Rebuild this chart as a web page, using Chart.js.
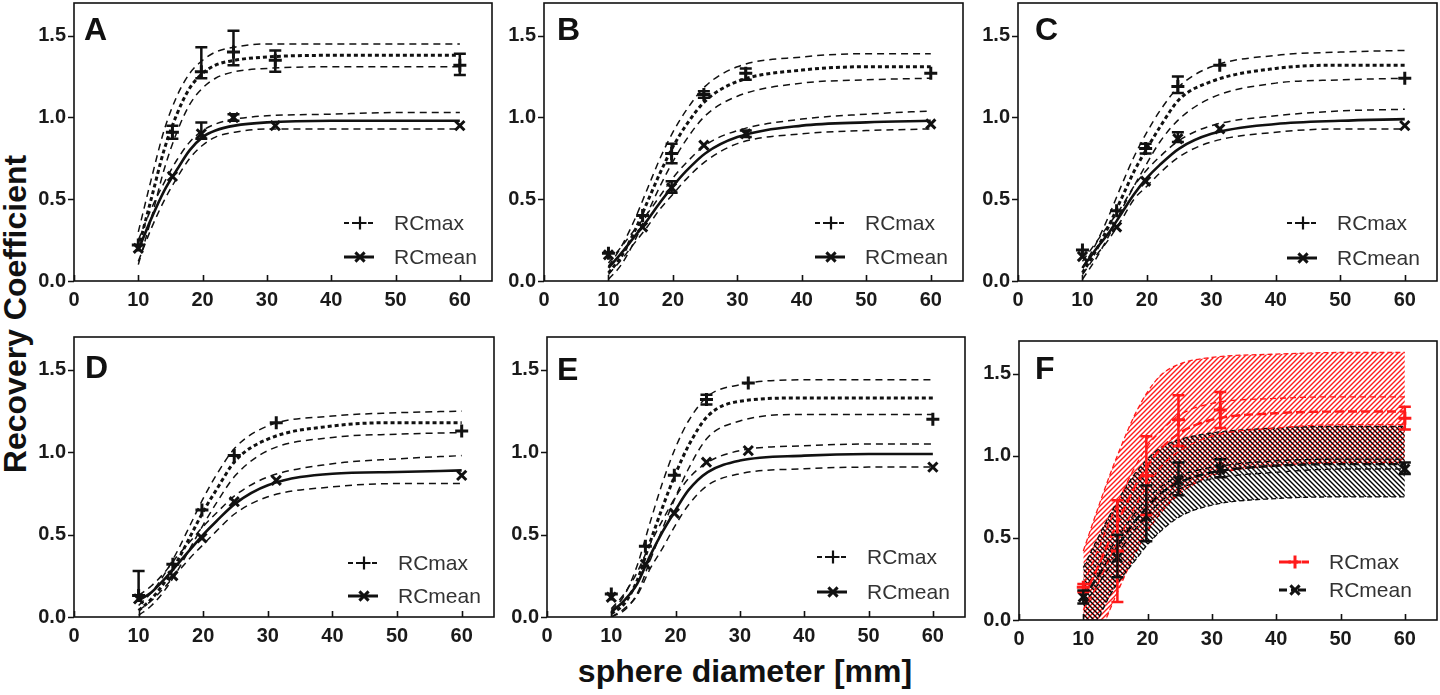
<!DOCTYPE html>
<html><head><meta charset="utf-8">
<script src="https://cdn.jsdelivr.net/npm/chart.js@4.4.0/dist/chart.umd.min.js"></script>
<style>
html,body{margin:0;padding:0;background:#fff;overflow:hidden;width:1440px;height:695px;}
.pane{position:absolute;}
.title{position:absolute;font:bold 32px Arial,"Liberation Sans",sans-serif;color:#111;white-space:nowrap;line-height:32px;}
</style></head><body>
<div class="title" style="left:15px;top:314px;transform:translate(-50%,-50%) rotate(-90deg);">Recovery Coefficient</div>
<div class="title" style="left:745px;top:671px;transform:translate(-50%,-50%);">sphere diameter [mm]</div>
<script>
// ---------- data ----------
const diam = [10, 15.3, 19.8, 24.8, 31.3, 60];
const fitX = [10, 12, 14, 16, 18, 20, 22, 25, 30, 40, 50, 60];
const xTickVals = [0, 10, 20, 30, 40, 50, 60];
const yTickVals = [0, 0.5, 1.0, 1.5];
const yTickLabels = ['0.0', '0.5', '1.0', '1.5'];
const legendLabels = ['RCmax', 'RCmean'];
const panelLetters = ['A', 'B', 'C', 'D', 'E', 'F'];

// Panel A
const aMax = [0.22, 0.91, 1.28, 1.40, 1.35, 1.32];
const aMaxLo = [0.22, 0.87, 1.24, 1.32, 1.28, 1.26];
const aMaxHi = [0.22, 0.95, 1.43, 1.53, 1.41, 1.39];
const aMean = [0.20, 0.64, 0.90, 1.00, 0.95, 0.95];
const aMeanLo = [0.20, 0.64, 0.87, 0.98, 0.95, 0.95];
const aMeanHi = [0.20, 0.64, 0.97, 1.02, 0.95, 0.95];
const aMaxFit = [0.20, 0.50, 0.80, 1.02, 1.18, 1.27, 1.32, 1.35, 1.37, 1.38, 1.38, 1.38];
const aMaxFitHi = [0.30, 0.62, 0.92, 1.13, 1.27, 1.35, 1.40, 1.43, 1.45, 1.45, 1.45, 1.45];
const aMaxFitLo = [0.10, 0.38, 0.68, 0.91, 1.08, 1.18, 1.24, 1.28, 1.30, 1.31, 1.31, 1.31];
const aMeanFit = [0.19, 0.38, 0.55, 0.68, 0.80, 0.88, 0.92, 0.95, 0.97, 0.98, 0.98, 0.98];
const aMeanFitHi = [0.25, 0.44, 0.60, 0.74, 0.85, 0.92, 0.96, 0.99, 1.01, 1.02, 1.03, 1.03];
const aMeanFitLo = [0.12, 0.32, 0.49, 0.63, 0.75, 0.83, 0.88, 0.91, 0.93, 0.93, 0.93, 0.93];

// Panel B
const bMax = [0.17, 0.40, 0.78, 1.14, 1.27, 1.27];
const bMaxLo = [0.17, 0.40, 0.72, 1.12, 1.23, 1.27];
const bMaxHi = [0.17, 0.40, 0.84, 1.16, 1.30, 1.27];
const bMean = [0.16, 0.33, 0.57, 0.83, 0.90, 0.96];
const bMeanLo = [0.16, 0.33, 0.54, 0.83, 0.88, 0.96];
const bMeanHi = [0.16, 0.33, 0.61, 0.83, 0.92, 0.96];
const bMaxFit = [0.05, 0.15, 0.30, 0.48, 0.66, 0.82, 0.95, 1.10, 1.22, 1.29, 1.31, 1.31];
const bMaxFitHi = [0.09, 0.21, 0.37, 0.56, 0.75, 0.91, 1.04, 1.19, 1.31, 1.37, 1.39, 1.39];
const bMaxFitLo = [0.01, 0.10, 0.24, 0.41, 0.58, 0.73, 0.86, 1.01, 1.13, 1.21, 1.23, 1.24];
const bMeanFit = [0.08, 0.17, 0.27, 0.37, 0.48, 0.58, 0.67, 0.78, 0.88, 0.95, 0.97, 0.98];
const bMeanFitHi = [0.11, 0.21, 0.31, 0.41, 0.52, 0.63, 0.72, 0.83, 0.92, 0.99, 1.02, 1.04];
const bMeanFitLo = [0.04, 0.13, 0.23, 0.33, 0.44, 0.53, 0.62, 0.73, 0.84, 0.90, 0.92, 0.93];

// Panel C
const cMax = [0.19, 0.43, 0.81, 1.19, 1.32, 1.24];
const cMaxLo = [0.19, 0.43, 0.78, 1.15, 1.32, 1.24];
const cMaxHi = [0.19, 0.43, 0.84, 1.25, 1.32, 1.24];
const cMean = [0.15, 0.33, 0.61, 0.87, 0.93, 0.95];
const cMeanLo = [0.15, 0.33, 0.61, 0.85, 0.93, 0.95];
const cMeanHi = [0.15, 0.33, 0.61, 0.91, 0.93, 0.95];
const cMaxFit = [0.05, 0.18, 0.33, 0.50, 0.67, 0.81, 0.94, 1.11, 1.22, 1.30, 1.32, 1.32];
const cMaxFitHi = [0.08, 0.22, 0.39, 0.58, 0.76, 0.91, 1.04, 1.19, 1.31, 1.38, 1.40, 1.41];
const cMaxFitLo = [0.01, 0.13, 0.27, 0.43, 0.58, 0.72, 0.85, 0.99, 1.12, 1.21, 1.23, 1.24];
const cMeanFit = [0.08, 0.19, 0.29, 0.41, 0.53, 0.63, 0.71, 0.81, 0.90, 0.96, 0.98, 0.99];
const cMeanFitHi = [0.12, 0.23, 0.34, 0.45, 0.58, 0.68, 0.76, 0.86, 0.95, 1.01, 1.04, 1.05];
const cMeanFitLo = [0.04, 0.15, 0.25, 0.37, 0.50, 0.58, 0.66, 0.76, 0.85, 0.91, 0.93, 0.93];

// Panel D
const dMax = [0.13, 0.32, 0.65, 0.98, 1.18, 1.13];
const dMaxLo = [0.13, 0.32, 0.65, 0.98, 1.18, 1.13];
const dMaxHi = [0.28, 0.32, 0.65, 0.98, 1.18, 1.13];
const dMean = [0.11, 0.25, 0.48, 0.70, 0.83, 0.86];
const dMeanLo = [0.11, 0.25, 0.48, 0.70, 0.83, 0.86];
const dMeanHi = [0.11, 0.25, 0.48, 0.70, 0.83, 0.86];
const dMaxFit = [0.04, 0.11, 0.21, 0.34, 0.49, 0.64, 0.77, 0.95, 1.08, 1.16, 1.18, 1.18];
const dMaxFitHi = [0.07, 0.15, 0.26, 0.40, 0.56, 0.72, 0.86, 1.03, 1.16, 1.22, 1.24, 1.25];
const dMaxFitLo = [0.01, 0.07, 0.16, 0.28, 0.42, 0.56, 0.69, 0.86, 1.01, 1.09, 1.11, 1.12];
const dMeanFit = [0.10, 0.15, 0.23, 0.32, 0.41, 0.50, 0.58, 0.69, 0.80, 0.87, 0.88, 0.89];
const dMeanFitHi = [0.13, 0.19, 0.27, 0.37, 0.46, 0.55, 0.63, 0.74, 0.85, 0.93, 0.96, 0.98];
const dMeanFitLo = [0.04, 0.10, 0.18, 0.27, 0.36, 0.44, 0.52, 0.63, 0.73, 0.79, 0.81, 0.81];

// Panel E
const eMax = [0.14, 0.43, 0.86, 1.32, 1.42, 1.20];
const eMaxLo = [0.14, 0.43, 0.86, 1.29, 1.42, 1.20];
const eMaxHi = [0.14, 0.43, 0.86, 1.35, 1.42, 1.20];
const eMean = [0.12, 0.32, 0.63, 0.94, 1.01, 0.91];
const eMeanLo = [0.12, 0.32, 0.63, 0.94, 1.01, 0.91];
const eMeanHi = [0.12, 0.32, 0.63, 0.94, 1.01, 0.91];
const eMaxFit = [0.02, 0.08, 0.22, 0.45, 0.67, 0.87, 1.04, 1.22, 1.31, 1.33, 1.33, 1.33];
const eMaxFitHi = [0.04, 0.13, 0.31, 0.57, 0.82, 1.03, 1.19, 1.34, 1.41, 1.44, 1.44, 1.44];
const eMaxFitLo = [0.00, 0.04, 0.14, 0.34, 0.54, 0.73, 0.90, 1.09, 1.19, 1.23, 1.23, 1.23];
const eMeanFit = [0.03, 0.10, 0.20, 0.37, 0.52, 0.65, 0.77, 0.88, 0.95, 0.98, 0.99, 0.99];
const eMeanFitHi = [0.05, 0.14, 0.27, 0.44, 0.59, 0.73, 0.84, 0.94, 1.01, 1.04, 1.05, 1.05];
const eMeanFitLo = [0.00, 0.05, 0.13, 0.29, 0.42, 0.56, 0.68, 0.80, 0.87, 0.90, 0.91, 0.91];

// Panel F
const fMax = [0.20, 0.42, 0.88, 1.22, 1.28, 1.23];
const fMaxLo = [0.17, 0.11, 0.64, 1.06, 1.17, 1.16];
const fMaxHi = [0.22, 0.73, 1.12, 1.37, 1.39, 1.30];
const fMean = [0.14, 0.38, 0.63, 0.85, 0.92, 0.92];
const fMeanLo = [0.10, 0.26, 0.48, 0.76, 0.87, 0.89];
const fMeanHi = [0.18, 0.52, 0.82, 0.96, 0.98, 0.96];
const fMaxFit = [0.14, 0.30, 0.48, 0.65, 0.81, 0.94, 1.04, 1.14, 1.22, 1.26, 1.27, 1.27];
const fMaxCiHi = [0.22, 0.40, 0.59, 0.77, 0.93, 1.06, 1.15, 1.25, 1.32, 1.35, 1.36, 1.36];
const fMaxCiLo = [0.06, 0.20, 0.37, 0.53, 0.69, 0.82, 0.93, 1.03, 1.12, 1.17, 1.19, 1.19];
const fMaxBandHi = [0.42, 0.65, 0.87, 1.07, 1.25, 1.39, 1.49, 1.56, 1.60, 1.62, 1.63, 1.63];
const fMaxBandLo = [-0.45, -0.15, 0.05, 0.23, 0.40, 0.54, 0.65, 0.77, 0.88, 0.94, 0.96, 0.96];
const fMeanFit = [0.13, 0.25, 0.37, 0.49, 0.60, 0.69, 0.77, 0.84, 0.90, 0.94, 0.95, 0.95];
const fMeanCiHi = [0.17, 0.30, 0.42, 0.54, 0.65, 0.74, 0.81, 0.88, 0.93, 0.97, 0.98, 0.98];
const fMeanCiLo = [0.09, 0.20, 0.32, 0.44, 0.55, 0.64, 0.72, 0.80, 0.86, 0.90, 0.92, 0.92];
const fMeanBandHi = [0.32, 0.48, 0.63, 0.77, 0.89, 0.98, 1.05, 1.10, 1.14, 1.17, 1.18, 1.18];
const fMeanBandLo = [-0.15, -0.02, 0.14, 0.26, 0.36, 0.46, 0.54, 0.63, 0.70, 0.74, 0.75, 0.75];

// ---------- helpers ----------
const FONT = 'Arial, "Liberation Sans", sans-serif';
const INK = '#111';
const RED = '#ff1a1a';
const pts = (xs, ys) => xs.map((x, i) => ({x: x, y: ys[i]}));

function curve(ys, color, width, dash, extra) {
  return Object.assign({
    data: pts(fitX, ys), showLine: true, borderColor: color, borderWidth: width,
    borderDash: dash, pointRadius: 0, pointHoverRadius: 0, cubicInterpolationMode: 'monotone',
    fill: false, backgroundColor: 'transparent'
  }, extra || {});
}
function markers(ys, color, style) {
  return {data: pts(diam, ys), showLine: false, pointStyle: style, pointRadius: 6.5,
    pointBorderWidth: 3, borderColor: color, backgroundColor: color, pointBackgroundColor: color, pointBorderColor: color};
}
function hatch(color, dir) {
  const s = 5, c = document.createElement('canvas');
  c.width = s; c.height = s;
  const g = c.getContext('2d');
  g.strokeStyle = color; g.lineWidth = 1.4; g.beginPath();
  if (dir > 0) {
    g.moveTo(0, s); g.lineTo(s, 0); g.moveTo(-1, 1); g.lineTo(1, -1); g.moveTo(s - 1, s + 1); g.lineTo(s + 1, s - 1);
  } else {
    g.moveTo(0, 0); g.lineTo(s, s); g.moveTo(-1, s - 1); g.lineTo(1, s + 1); g.moveTo(s - 1, -1); g.lineTo(s + 1, 1);
  }
  g.stroke();
  return g.createPattern(c, 'repeat');
}

const decor = {
  id: 'decor',
  afterDatasetsDraw(chart, args, o) {
    const ctx = chart.ctx, x = chart.scales.x, y = chart.scales.y;
    ctx.save();
    ctx.setLineDash([]);
    o.bars.forEach(b => {
      ctx.strokeStyle = b.color; ctx.lineWidth = 2.5;
      diam.forEach((xv, i) => {
        const lo = b.lo[i], hi = b.hi[i];
        if (hi - lo < 0.005) return;
        const px = x.getPixelForValue(xv), p1 = y.getPixelForValue(lo), p2 = y.getPixelForValue(hi);
        ctx.beginPath();
        ctx.moveTo(px, p1); ctx.lineTo(px, p2);
        ctx.moveTo(px - 6, p1); ctx.lineTo(px + 6, p1);
        ctx.moveTo(px - 6, p2); ctx.lineTo(px + 6, p2);
        ctx.stroke();
      });
    });
    ctx.restore();
  },
  afterDraw(chart, args, o) {
    const ctx = chart.ctx, a = chart.chartArea, x = chart.scales.x, y = chart.scales.y;
    ctx.save();
    ctx.setLineDash([]);
    ctx.strokeStyle = INK; ctx.lineWidth = 1.6;
    ctx.strokeRect(a.left, a.top, a.right - a.left, a.bottom - a.top);
    ctx.beginPath();
    xTickVals.forEach(v => { const px = Math.round(x.getPixelForValue(v)) + 0.5; ctx.moveTo(px, a.bottom); ctx.lineTo(px, a.bottom - 6); });
    yTickVals.forEach(v => { const py = Math.round(y.getPixelForValue(v)) + 0.5; ctx.moveTo(a.left, py); ctx.lineTo(a.left - 6, py); });
    ctx.stroke();
    // panel letter
    ctx.fillStyle = INK; ctx.font = 'bold 32px ' + FONT; ctx.textBaseline = 'alphabetic'; ctx.textAlign = 'left';
    ctx.fillText(o.letter, a.left + o.letterPos[0], a.top + o.letterPos[1]);
    // legend
    const tx = a.left + o.leg[0];
    o.legendItems.forEach((it, i) => {
      const yy = a.bottom - o.leg[1 + i];
      ctx.strokeStyle = it.color; ctx.fillStyle = it.color; ctx.lineWidth = it.lw;
      ctx.setLineDash(it.dash);
      ctx.beginPath(); ctx.moveTo(tx - 50, yy); ctx.lineTo(tx - 20, yy); ctx.stroke();
      ctx.setLineDash([]);
      Chart.helpers.drawPoint(ctx, {pointStyle: it.style, radius: 6.5, borderWidth: 3, rotation: 0}, tx - 34, yy);
      ctx.fillStyle = '#333'; ctx.font = '21px ' + FONT; ctx.textBaseline = 'middle';
      ctx.fillText(legendLabels[i], tx, yy + 1);
    });
    ctx.restore();
  }
};

function makeChart(idx, box, datasets, bars, legendItems, letterPos, leg) {
  const [L, T, R, B] = box;
  const div = document.createElement('div');
  div.className = 'pane';
  let cl = L - 74, ct = T - 3, w = R - cl + 3, h = B - ct + 44;
  const place = () => {
    div.style.left = cl + 'px'; div.style.top = ct + 'px';
    div.style.width = w + 'px'; div.style.height = h + 'px';
  };
  place();
  const cv = document.createElement('canvas');
  div.appendChild(cv); document.body.appendChild(div);
  const chart = new Chart(cv, {
    type: 'scatter',
    data: {datasets: datasets},
    options: {
      responsive: true, maintainAspectRatio: false, animation: false, events: [],
      layout: {autoPadding: false, padding: {left: 0, top: 3, right: 3, bottom: 0}},
      plugins: {legend: {display: false}, tooltip: {enabled: false},
        decor: {bars: bars, legendItems: legendItems, letter: panelLetters[idx], letterPos: letterPos, leg: leg}},
      scales: {
        x: {type: 'linear', min: 0, max: 65,
          grid: {display: false, drawTicks: false}, border: {display: false},
          afterBuildTicks: s => { s.ticks = xTickVals.map(v => ({value: v})); },
          afterFit: s => { s.height = 44; },
          ticks: {padding: 7, color: '#1a1a1a', font: {family: FONT, size: 20, weight: 'bold'}, maxRotation: 0,
            callback: v => String(v)}},
        y: {type: 'linear', min: 0, max: 1.7,
          grid: {display: false, drawTicks: false}, border: {display: false},
          afterBuildTicks: s => { s.ticks = yTickVals.map(v => ({value: v})); },
          afterFit: s => { s.width = 74; },
          ticks: {padding: 8, color: '#1a1a1a', font: {family: FONT, size: 20, weight: 'bold'},
            callback: v => yTickLabels[yTickVals.indexOf(v)]}}
      }
    },
    plugins: [decor]
  });
  // align the chart area exactly with the target box
  for (let k = 0; k < 3; k++) {
    const a = chart.chartArea;
    const dx = L - (cl + a.left), dy = T - (ct + a.top);
    const dw = (R - L) - (a.right - a.left), dh = (B - T) - (a.bottom - a.top);
    if (Math.abs(dx) < 0.5 && Math.abs(dy) < 0.5 && Math.abs(dw) < 0.5 && Math.abs(dh) < 0.5) break;
    cl += dx; ct += dy; w += dw; h += dh;
    place();
    chart.resize(w, h);
  }
}

function standardPanel(idx, box, mx, mxLo, mxHi, mn, mnLo, mnHi, fMx, fMxHi, fMxLo, fMn, fMnHi, fMnLo, letterPos, leg) {
  const ds = [
    markers(mx, INK, 'cross'),
    markers(mn, INK, 'crossRot'),
    curve(fMx, INK, 3, [4, 3]),
    curve(fMxHi, INK, 1.5, [7, 5]),
    curve(fMxLo, INK, 1.5, [7, 5]),
    curve(fMn, INK, 2.6, []),
    curve(fMnHi, INK, 1.5, [7, 5]),
    curve(fMnLo, INK, 1.5, [7, 5])
  ];
  const bars = [{lo: mxLo, hi: mxHi, color: INK}, {lo: mnLo, hi: mnHi, color: INK}];
  const items = [
    {color: INK, lw: 2.2, dash: [5, 3], style: 'cross'},
    {color: INK, lw: 3, dash: [], style: 'crossRot'}
  ];
  makeChart(idx, box, ds, bars, items, letterPos, leg);
}

standardPanel(0, [74, 3, 492, 281], aMax, aMaxLo, aMaxHi, aMean, aMeanLo, aMeanHi,
  aMaxFit, aMaxFitHi, aMaxFitLo, aMeanFit, aMeanFitHi, aMeanFitLo, [10, 37], [320, 58, 24]);
standardPanel(1, [544, 3, 963, 281], bMax, bMaxLo, bMaxHi, bMean, bMeanLo, bMeanHi,
  bMaxFit, bMaxFitHi, bMaxFitLo, bMeanFit, bMeanFitHi, bMeanFitLo, [13, 37], [321, 58, 24]);
standardPanel(2, [1018, 3, 1437, 281], cMax, cMaxLo, cMaxHi, cMean, cMeanLo, cMeanHi,
  cMaxFit, cMaxFitHi, cMaxFitLo, cMeanFit, cMeanFitHi, cMeanFitLo, [17, 37], [319, 58, 23]);
standardPanel(3, [74, 337, 494, 617], dMax, dMaxLo, dMaxHi, dMean, dMeanLo, dMeanHi,
  dMaxFit, dMaxFitHi, dMaxFitLo, dMeanFit, dMeanFitHi, dMeanFitLo, [11, 41], [324, 54, 21]);
standardPanel(4, [547, 337, 965, 617], eMax, eMaxLo, eMaxHi, eMean, eMeanLo, eMeanHi,
  eMaxFit, eMaxFitHi, eMaxFitLo, eMeanFit, eMeanFitHi, eMeanFitLo, [10, 43], [320, 60, 25]);

// Panel F
(function () {
  const redHatch = hatch(RED, 1), blackHatch = hatch('#000', -1);
  const ds = [
    markers(fMax, RED, 'cross'),
    markers(fMean, INK, 'crossRot'),
    curve(fMaxFit, RED, 2.4, [9, 4]),
    curve(fMaxCiHi, RED, 1.3, [6, 4]),
    curve(fMaxCiLo, RED, 1.3, [6, 4]),
    curve(fMeanFit, INK, 2.4, [9, 4]),
    curve(fMeanCiHi, INK, 1.3, [6, 4]),
    curve(fMeanCiLo, INK, 1.3, [6, 4]),
    curve(fMeanBandHi, INK, 1.3, [5, 3], {fill: '+1', backgroundColor: blackHatch}),
    curve(fMeanBandLo, INK, 1.3, [5, 3]),
    curve(fMaxBandHi, RED, 1.3, [5, 3], {fill: '+1', backgroundColor: redHatch}),
    curve(fMaxBandLo, RED, 1.3, [5, 3])
  ];
  const bars = [{lo: fMaxLo, hi: fMaxHi, color: RED}, {lo: fMeanLo, hi: fMeanHi, color: INK}];
  const items = [
    {color: RED, lw: 3, dash: [12, 4, 3, 4], style: 'cross'},
    {color: INK, lw: 3, dash: [8, 4, 3, 4], style: 'crossRot'}
  ];
  makeChart(5, [1019, 341, 1437, 620], ds, bars, items, [16, 38], [310, 58, 30]);
})();
</script>
</body></html>
